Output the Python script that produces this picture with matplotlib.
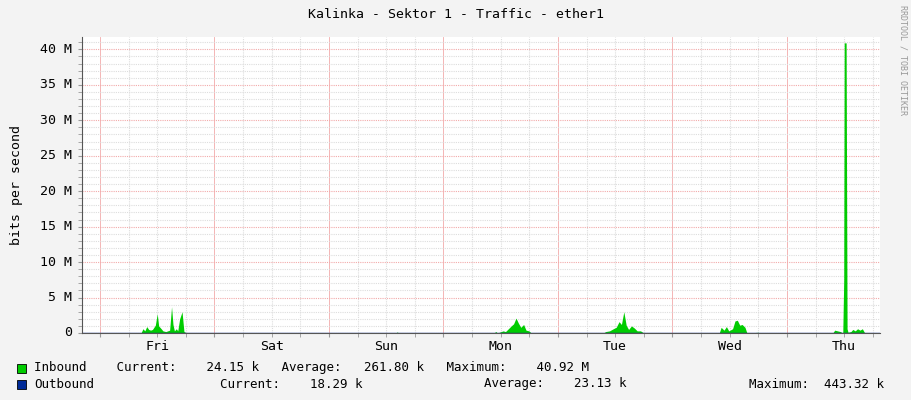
import matplotlib
matplotlib.use('Agg')
import matplotlib.pyplot as plt
from matplotlib.patches import Rectangle
from matplotlib.ticker import FixedLocator, MultipleLocator

plt.rcParams['font.family'] = 'DejaVu Sans Mono'

# hours since Fri 00:00, inbound in Mbit/s
in_hours = [-4, 8.6, 9.0, 9.4, 9.8, 10.2, 10.6, 11.0, 11.6, 12.0, 12.3, 12.7, 13.2, 13.8,
            14.6, 15.0, 15.3, 15.6, 16.0, 16.3, 16.7, 17.2, 17.6, 17.9, 18.1,
            62.0, 62.3, 62.6,
            82.5, 83.0, 83.3, 84.5, 85.0, 85.6, 86.2, 86.7, 87.2, 87.7, 88.2, 88.8, 89.3, 89.9, 90.4,
            105.5, 106.0, 106.8, 107.6, 108.2, 108.8, 109.3, 109.8, 110.3, 110.8, 111.4, 112.0, 112.6, 113.3, 114.0,
            129.8, 130.2, 130.8, 131.3, 131.8, 132.6, 133.1, 133.6, 134.1, 134.6, 135.2, 135.6, 138.0, 138.3,
            153.6, 154.0, 154.6, 155.2, 155.7, 155.9, 156.0, 156.4, 156.6, 156.8, 157.4, 157.8, 158.3, 158.8, 159.3, 159.8, 160.3, 165]
in_mbit = [0, 0, 0.6, 0.3, 0.9, 0.5, 0.4, 0.5, 1.1, 2.7, 1.0, 0.7, 0.3, 0.2,
           0.4, 3.7, 1.2, 0.3, 0.6, 0.3, 2.0, 3.0, 0.2, 0.1, 0,
           0, 0.15, 0,
           0, 0.2, 0, 0.3, 0.2, 0.6, 1.0, 1.3, 2.1, 1.4, 0.8, 1.2, 0.4, 0.3, 0,
           0, 0.2, 0.3, 0.6, 0.8, 1.6, 1.2, 3.0, 1.1, 0.5, 1.0, 0.7, 0.3, 0.3, 0,
           0, 0.8, 0.4, 0.9, 0.3, 0.6, 1.7, 1.8, 1.1, 1.2, 0.8, 0, 0.1, 0,
           0, 0.4, 0.3, 0.2, 0, 7.5, 40.92, 40.92, 0.6, 0.1, 0.2, 0.5, 0.3, 0.6, 0.4, 0.6, 0, 0]
out_hours = [-4, 165]
out_mbit = [0.02, 0.02]

days = ['Fri', 'Sat', 'Sun', 'Mon', 'Tue', 'Wed', 'Thu']

fig = plt.figure(figsize=(9.11, 4.0), dpi=100, facecolor='#f3f3f3')
ax = fig.add_axes([82 / 911, 1 - 333 / 400, 798 / 911, 296 / 400])
ax.set_facecolor('white')
ax.fill_between(in_hours, 0, in_mbit, color='#00cc00', linewidth=0)
ax.plot(out_hours, out_mbit, color='#002a97', linewidth=1)
ax.set_xlim(-3.77, 163.5)
ax.set_ylim(0, 40.9 * 296 / 290)

ax.yaxis.set_major_locator(MultipleLocator(5))
ax.yaxis.set_minor_locator(MultipleLocator(1))
ax.set_yticklabels([])
for v in range(0, 45, 5):
    ax.text(-0.012, v, '0' if v == 0 else f'{v} M', transform=ax.get_yaxis_transform(),
            ha='right', va='center', fontsize=9.5)
ax.xaxis.set_major_locator(FixedLocator([24 * i for i in range(7)]))
ax.xaxis.set_minor_locator(MultipleLocator(6))
ax.set_xticklabels([])
for i, d in enumerate(days):
    ax.text(24 * i + 12, -0.025, d, transform=ax.get_xaxis_transform(), ha='center', va='top', fontsize=9.5)
ax.grid(which='minor', color='#dddddd', linestyle=(0, (1, 1)), linewidth=0.8)
ax.grid(which='major', axis='y', color='#f2aaaa', linestyle=(0, (1, 1)), linewidth=0.8)
ax.grid(which='major', axis='x', color='#f2aaaa', linestyle='-', linewidth=0.6)
ax.set_axisbelow(True)
ax.tick_params(which='both', length=3, color='#999999')
for s in ['top', 'right']:
    ax.spines[s].set_visible(False)
for s in ['left', 'bottom']:
    ax.spines[s].set_color('#555555')
ax.set_ylabel('bits per second', fontsize=9.5, labelpad=36)

fig.text(0.5, 1 - 14 / 400, 'Kalinka - Sektor 1 - Traffic - ether1', ha='center', va='center', fontsize=9.5)
fig.text(1 - 8 / 911, 1 - 60 / 400, 'RRDTOOL / TOBI OETIKER', rotation=270, ha='center', va='center',
         fontsize=6, color='#999999')

fig.patches.append(Rectangle((17 / 911, 1 - 373 / 400), 9 / 911, 9 / 400, transform=fig.transFigure,
                             facecolor='#00cc00', edgecolor='black', linewidth=0.6))
fig.patches.append(Rectangle((17 / 911, 1 - 389 / 400), 9 / 911, 9 / 400, transform=fig.transFigure,
                             facecolor='#002a97', edgecolor='black', linewidth=0.6))
fig.text(34 / 911, 1 - 368 / 400, 'Inbound    Current:    24.15 k   Average:   261.80 k   Maximum:    40.92 M',
         va='center', fontsize=9)
fig.text(34 / 911, 1 - 384 / 400, 'Outbound', va='center', fontsize=9)
fig.text(220 / 911, 1 - 384 / 400, 'Current:    18.29 k', va='center', fontsize=9)
fig.text(484 / 911, 1 - 384 / 400, 'Average:    23.13 k', va='center', fontsize=9)
fig.text(749 / 911, 1 - 384 / 400, 'Maximum:  443.32 k', va='center', fontsize=9)

fig.savefig('out.png', dpi=100, facecolor=fig.get_facecolor())
